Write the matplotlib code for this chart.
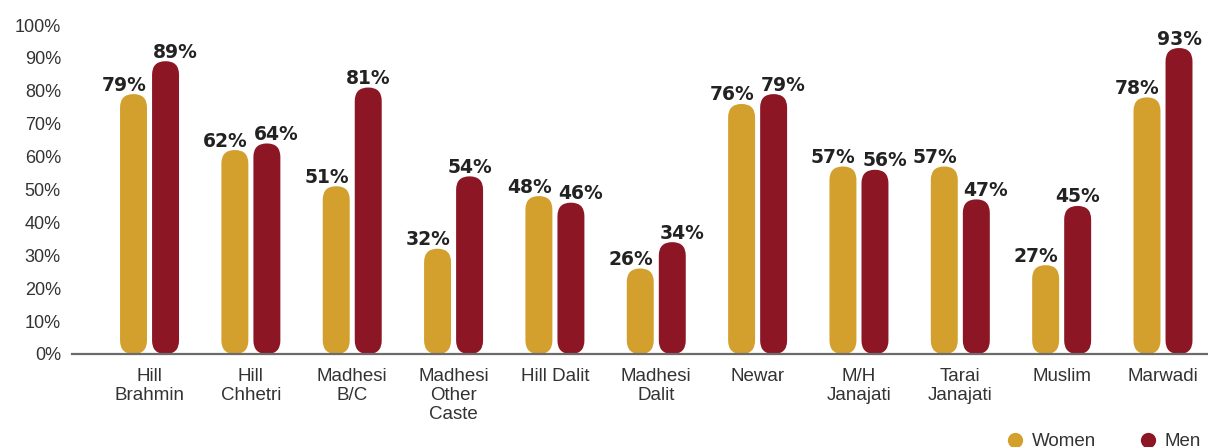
import numpy as np
import matplotlib.pyplot as plt
from matplotlib.patches import FancyBboxPatch, BoxStyle
from matplotlib.lines import Line2D

groups = ["Hill\nBrahmin", "Hill\nChhetri", "Madhesi\nB/C", "Madhesi\nOther\nCaste",
          "Hill Dalit", "Madhesi\nDalit", "Newar", "M/H\nJanajati", "Tarai\nJanajati",
          "Muslim", "Marwadi"]
women = [79, 62, 51, 32, 48, 26, 76, 57, 57, 27, 78]
men = [89, 64, 81, 54, 46, 34, 79, 56, 47, 45, 93]
yticks = [0, 10, 20, 30, 40, 50, 60, 70, 80, 90, 100]

GOLD = "#D3A02E"
RED = "#8C1624"
TEXT = "#333333"

fig = plt.figure(figsize=(12.08, 4.47), dpi=100)
ax = fig.add_axes([72 / 1208, 1 - 354 / 447, 1 - 72 / 1208, (354 - 25) / 447])

x = np.arange(len(groups))
width = 0.266
offset = 0.158

ax.set_xlim(-0.765, 10.444)
ax.set_ylim(0, 100)

# pixel aspect so the bar ends come out as true semicircles
fig.canvas.draw()
p0 = ax.transData.transform((0, 0))
p1 = ax.transData.transform((1, 1))
aspect = (p1[0] - p0[0]) / (p1[1] - p0[1])

for vals, other, dx, color, side in [(women, men, -offset, GOLD, -1),
                                     (men, women, offset, RED, 1)]:
    bars = ax.bar(x + dx, vals, width, color=color)
    for rect, v, o in zip(bars, vals, other):
        bx, by = rect.get_x(), rect.get_y()
        bw, bh = rect.get_width(), rect.get_height()
        rect.remove()
        ax.add_patch(FancyBboxPatch((bx, by), bw, bh,
                                    boxstyle=BoxStyle.Round(pad=0, rounding_size=bw / 2),
                                    mutation_aspect=aspect, facecolor=color,
                                    edgecolor="none", clip_on=False))
        # push the two labels apart unless this bar clearly stands above its pair
        nudge = 7 * side if v - o < 14 else 0
        ax.annotate(f"{v}%", (bx + bw / 2, v), xytext=(nudge, 2.5),
                    textcoords="offset points", ha="center", va="baseline",
                    fontsize=13.5, fontweight="bold", color="#222222",
                    family="DejaVu Sans")

ax.set_yticks(yticks)
ax.set_yticklabels([f"{t}%" for t in yticks], fontsize=13, color=TEXT,
                   family="Liberation Sans")
ax.set_xticks(x)
ax.set_xticklabels(groups, fontsize=13.5, color=TEXT, family="Liberation Sans",
                   linespacing=1.15, va="top")
ax.tick_params(axis="both", length=0)
ax.tick_params(axis="y", pad=8)
ax.tick_params(axis="x", pad=10)

for s in ["top", "right", "left"]:
    ax.spines[s].set_visible(False)
ax.spines["bottom"].set_color("#6b6b6b")
ax.spines["bottom"].set_linewidth(1.6)

handles = [Line2D([], [], marker="o", linestyle="none", markersize=11,
                  markerfacecolor=GOLD, markeredgecolor="none", label="Women"),
           Line2D([], [], marker="o", linestyle="none", markersize=11,
                  markerfacecolor=RED, markeredgecolor="none", label="Men")]
fig.legend(handles=handles, loc="center left", bbox_to_anchor=(1005.6 / 1208, 0.012),
           ncol=2, frameon=False, prop={"family": "Liberation Sans", "size": 13.5},
           handlelength=1, handletextpad=0.4, columnspacing=2.27, borderpad=0,
           borderaxespad=0, labelcolor=TEXT)

fig.savefig("out.png", dpi=100)
